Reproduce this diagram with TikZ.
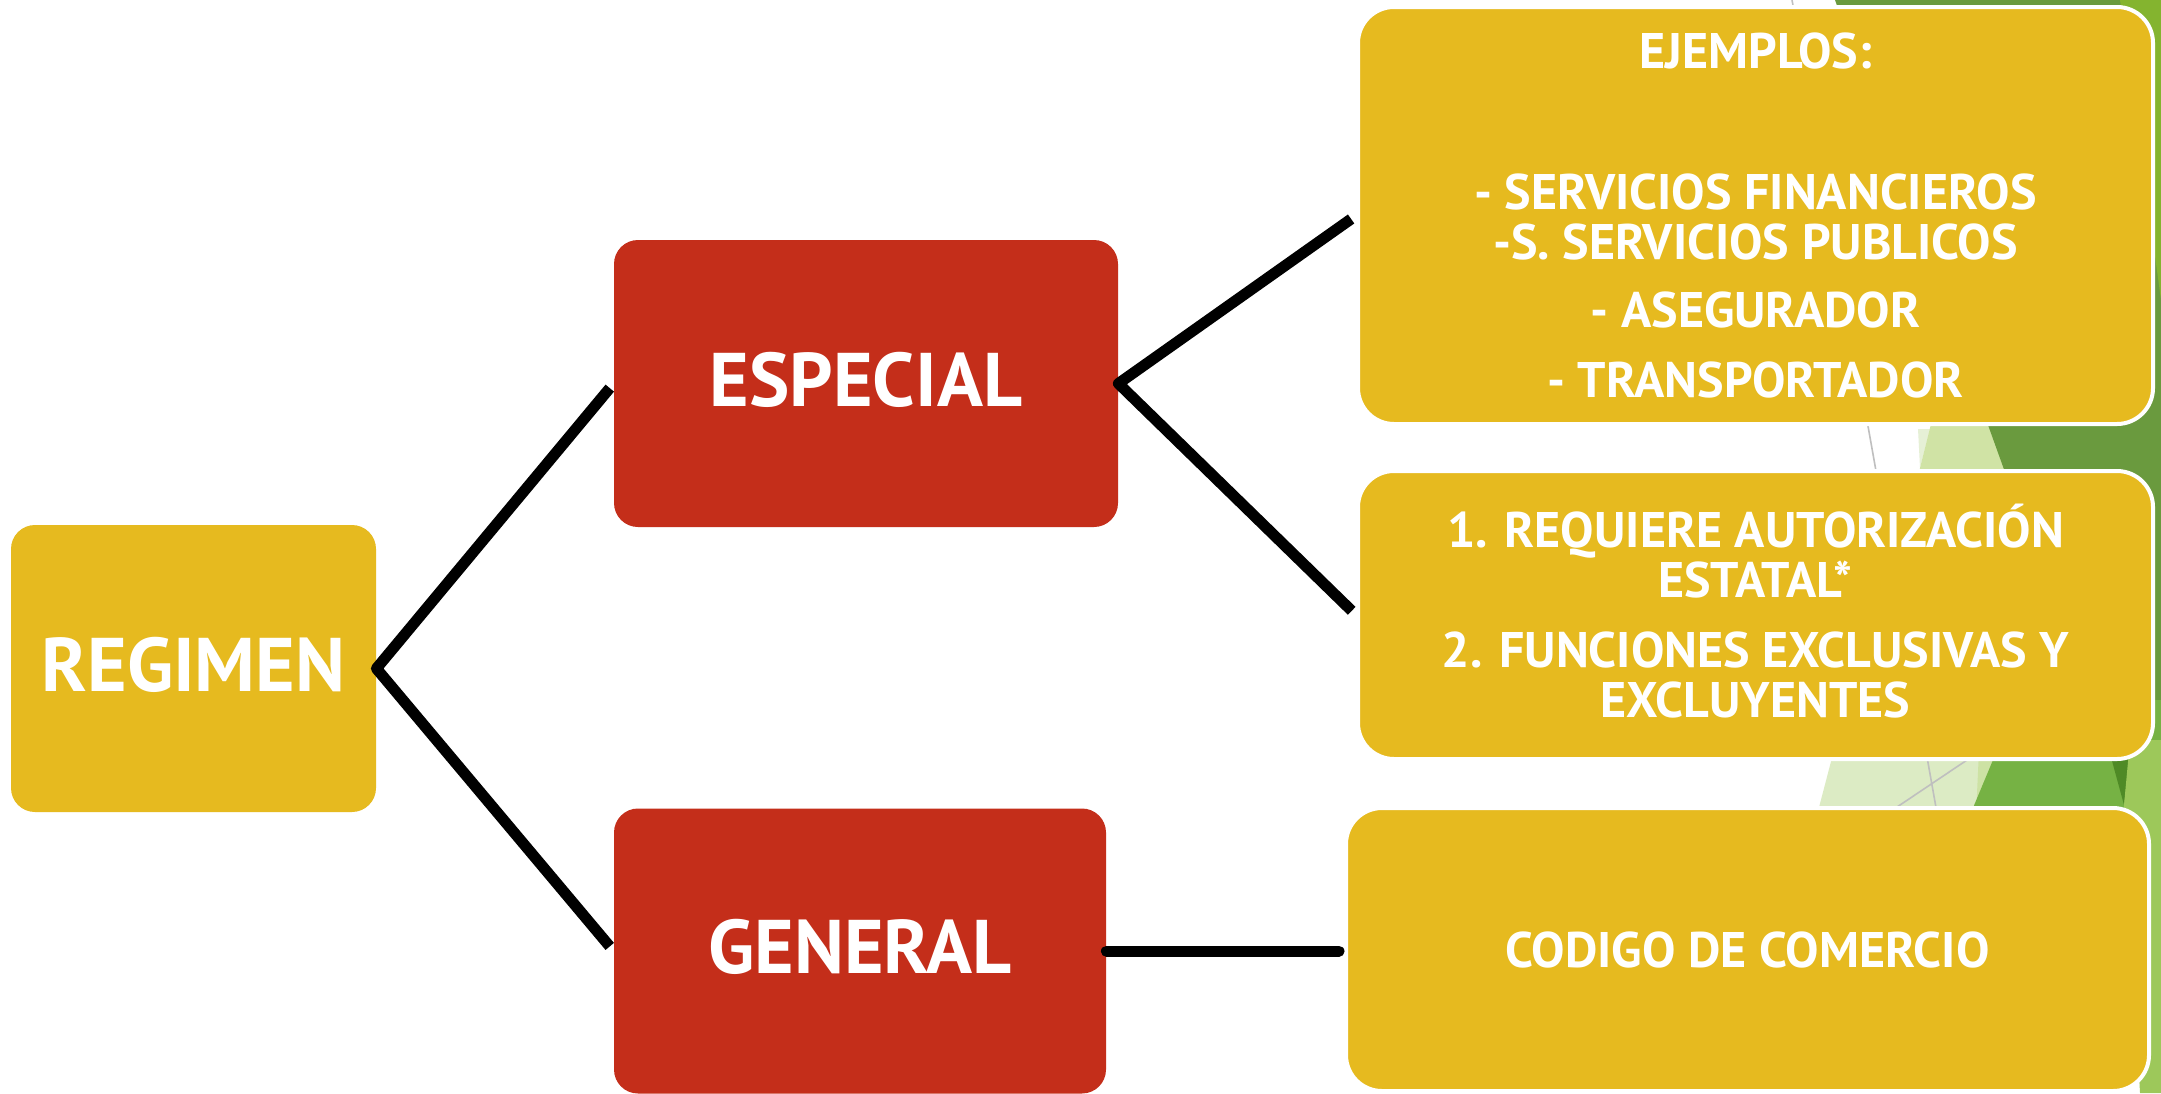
\documentclass[tikz,border=0pt]{standalone}
\usepackage{fontspec}
\setmainfont{PT Sans}
\usepackage{xcolor}
\usepackage{tikz}

\definecolor{regyellow}{HTML}{E6BA1F}
\definecolor{regred}{HTML}{C42E1A}
\definecolor{leafdark}{HTML}{6A9A3E}
\definecolor{leafbright}{HTML}{84B42F}
\definecolor{leaflight}{HTML}{D0E3A5}
\definecolor{leafpale}{HTML}{DCEBC4}
\definecolor{leafpaler}{HTML}{E6F0D6}
\definecolor{leafsliver}{HTML}{CDE2A4}
\definecolor{leafmid}{HTML}{76B244}
\definecolor{leafdeep}{HTML}{4F8A26}
\definecolor{leafsoft}{HTML}{9DC85A}

\begin{document}
\begin{tikzpicture}[x=0.5pt, y=-0.5pt,
    smallbox/.style={rectangle, rounded corners=12pt, inner sep=0pt, text=white, text depth=4.5pt,
        font=\bfseries\fontsize{38}{40}\selectfont},
    bigbox/.style={rectangle, rounded corners=18pt, draw=white, line width=2pt, fill=regyellow,
        inner sep=0pt, text=white, align=center, font=\bfseries\fontsize{25}{25}\selectfont},
    conn/.style={line width=5.5pt, line join=round, line cap=butt}]
    \useasboundingbox (0, 0) rectangle (2161, 1093);
    \fill[white] (0, 0) rectangle (2161, 1093);

    \fill[leafpaler] (1918, 429) -- (1930, 429) -- (1920, 468) -- cycle;
    \fill[leaflight] (1937, 400) -- (2100, 400) -- (2100, 480) -- (1917, 480) -- cycle;
    \fill[leafdark] (1835, 0) -- (2161, 0) -- (2161, 700) -- (2087, 700) -- cycle;
    \fill[leafbright] (2120, 0) -- (2161, 0) -- (2161, 300) -- cycle;
    \fill[leafpale] (1834, 750) -- (1990, 750) -- (1990, 815) -- (1817, 815) -- cycle;
    \fill[leafsliver] (1979, 750) -- (2040, 750) -- (2040, 815) -- (1976, 815) -- cycle;
    \fill[leafmid] (2018, 700) -- (2161, 700) -- (2161, 815) -- (1970, 815) -- cycle;
    \fill[leafdeep] (2109, 750) -- (2130, 750) -- (2124, 805) -- cycle;
    \fill[leafsoft] (2130, 740) -- (2161, 740) -- (2161, 1093) -- (2140, 1093) -- (2124, 805) -- cycle;
    \draw[gray!50, line width=0.8pt] (1792, 0) -- (1940, 830);
    \draw[gray!50, line width=0.8pt] (1967, 760) -- (1897, 807);

    \node[smallbox, fill=regyellow, minimum width=182.5pt, minimum height=143.5pt] at (193.5, 668.5) (regimen) {REGIMEN};
    \node[smallbox, fill=regred, minimum width=252pt, minimum height=143.5pt] at (866, 383.5) (especial) {ESPECIAL};
    \node[smallbox, fill=regred, minimum width=246pt, minimum height=142.5pt] at (860, 951) (general) {GENERAL};

    \node[bigbox, minimum width=397.5pt, minimum height=208.5pt] at (1755.5, 215.5) (ejemplos)
        {EJEMPLOS:\\[45.5pt]- SERVICIOS FINANCIEROS\\-S. SERVICIOS PUBLICOS\\[9pt]- ASEGURADOR\\[10pt]- TRANSPORTADOR};
    \node[bigbox, minimum width=397.5pt, minimum height=144pt] at (1755.5, 615) (requisitos)
        {1. REQUIERE AUTORIZACI\smash{Ó}N\\ESTATAL*\\[10pt]2. FUNCIONES EXCLUSIVAS Y\\EXCLUYENTES};
    \node[bigbox, minimum width=401.5pt, minimum height=141.5pt] at (1747.5, 949.5) (codigo) {CODIGO DE COMERCIO};

    \draw[conn, shorten <=3pt, shorten >=3pt] (especial.west) -- (regimen.east) -- (general.west);
    \draw[conn, shorten <=3pt, shorten >=3pt] (ejemplos.west) -- (especial.east) -- (requisitos.west);
    \draw[conn, line cap=round, shorten >=2.5pt] (general.east) -- (general.east -| codigo.west);
\end{tikzpicture}
\end{document}
